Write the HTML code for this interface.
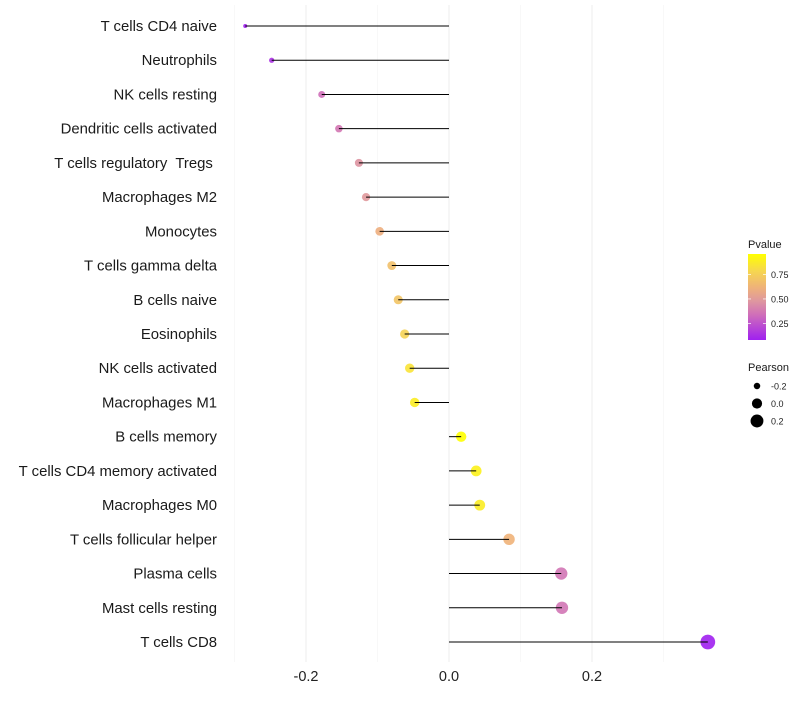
<!DOCTYPE html>
<html><head><meta charset="utf-8"><style>
body{margin:0;background:#fff;font-family:"Liberation Sans",sans-serif}
text{white-space:pre}
</style></head><body>
<svg id="c" width="800" height="700" xmlns="http://www.w3.org/2000/svg"></svg>
<script>
const categories=["T cells CD4 naive","Neutrophils","NK cells resting","Dendritic cells activated","T cells regulatory  Tregs ","Macrophages M2","Monocytes","T cells gamma delta","B cells naive","Eosinophils","NK cells activated","Macrophages M1","B cells memory","T cells CD4 memory activated","Macrophages M0","T cells follicular helper","Plasma cells","Mast cells resting","T cells CD8"];
const pearson=[-0.285,-0.248,-0.178,-0.154,-0.126,-0.116,-0.097,-0.080,-0.071,-0.062,-0.055,-0.048,0.017,0.038,0.043,0.084,0.157,0.158,0.362];
const pvalue=[0.08,0.14,0.34,0.37,0.47,0.49,0.6,0.68,0.7,0.77,0.84,0.88,0.96,0.9,0.88,0.62,0.36,0.36,0.08];
const xTicks=[-0.2,0.0,0.2];
const xTickLabels=["-0.2","0.0","0.2"];
const xMinor=[-0.3,-0.1,0.1,0.3];
const colTicks=[0.25,0.5,0.75];
const colTickLabels=["0.25","0.50","0.75"];
const sizeLegend=[-0.2,0.0,0.2];
const sizeLegendLabels=["-0.2","0.0","0.2"];

const svg=document.getElementById('c');
const NS="http://www.w3.org/2000/svg";
function mk(t,a,p){const e=document.createElementNS(NS,t);for(const k in a)e.setAttribute(k,a[k]);(p||svg).appendChild(e);return e;}
const X=v=>449+v*715;
const Y=i=>26+i*(616/18);
const pMin=0.08,pMax=0.96;
const stops=[[0,[160,32,240]],[0.3,[208,112,184]],[0.45,[222,150,160]],[0.6,[238,176,124]],[0.8,[246,214,80]],[1,[255,255,0]]];
function col(p){let t=(p-pMin)/(pMax-pMin);t=Math.max(0,Math.min(1,t));
 for(let k=1;k<stops.length;k++){if(t<=stops[k][0]){const a=stops[k-1],b=stops[k];const u=(t-a[0])/(b[0]-a[0]);
 return `rgb(${a[1].map((v,i)=>Math.round(v+(b[1][i]-v)*u))})`;}}return 'rgb(255,255,0)';}
const vMin=-0.285,vMax=0.362;
const R=v=>Math.sqrt(4+(v-vMin)/(vMax-vMin)*50);

xMinor.forEach(v=>{const l=mk('line',{x1:X(v),x2:X(v),y1:5,y2:662,stroke:'#f4f4f4','stroke-width':0.6});
});
xTicks.forEach((v,i)=>{const l=mk('line',{x1:X(v),x2:X(v),y1:5,y2:662,stroke:'#ececec','stroke-width':1});

const t=mk('text',{x:X(v),y:681,'text-anchor':'middle','font-size':14.5,fill:'#222'});t.textContent=xTickLabels[i];
});

categories.forEach((c,i)=>{
 const y=Y(i);
 const t=mk('text',{x:217,y:y+5,'text-anchor':'end','font-size':14.9,fill:'#1a1a1a'});t.textContent=c;
 
 const pt=mk('circle',{cx:X(pearson[i]),cy:y,r:R(pearson[i]),fill:col(pvalue[i]),'fill-opacity':0.9});
 
 const s=mk('line',{x1:X(0),x2:X(pearson[i]),y1:y,y2:y,stroke:'#000','stroke-width':1});
 
});

const lt=mk('text',{x:748,y:248,'font-size':11,fill:'#1a1a1a'});lt.textContent='Pvalue';

const defs=mk('defs',{});const g=mk('linearGradient',{id:'gr',x1:0,y1:1,x2:0,y2:0},defs);
stops.forEach(s=>mk('stop',{offset:s[0],'stop-color':`rgb(${s[1]})`},g));
const cb=mk('rect',{x:748,y:254,width:18,height:86,fill:'url(#gr)'});

const CY=p=>340-(p-pMin)/(pMax-pMin)*86;
colTicks.forEach((v,i)=>{mk('line',{x1:748,x2:751,y1:CY(v),y2:CY(v),stroke:'#fff','stroke-width':0.7});mk('line',{x1:763,x2:766,y1:CY(v),y2:CY(v),stroke:'#fff','stroke-width':0.7});
 const t=mk('text',{x:771,y:CY(v)+3.5,'font-size':9,fill:'#222'});t.textContent=colTickLabels[i];
 });
const st=mk('text',{x:748,y:371,'font-size':11,fill:'#1a1a1a'});st.textContent='Pearson';

sizeLegend.forEach((v,i)=>{const y=386+i*17.5;
 const c=mk('circle',{cx:757,cy:y,r:R(v),fill:'#000'});
 
 const t=mk('text',{x:771,y:y+3.5,'font-size':9,fill:'#222'});t.textContent=sizeLegendLabels[i];
 });
</script>
</body></html>
